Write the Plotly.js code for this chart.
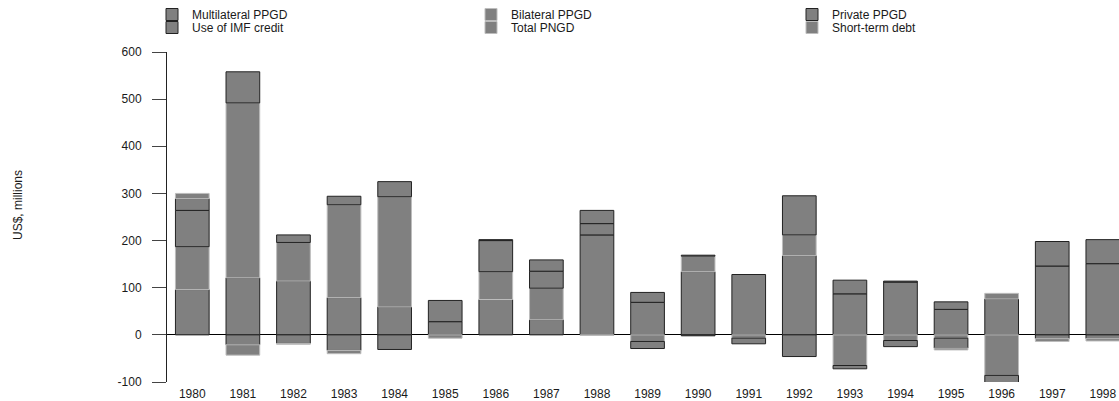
<!DOCTYPE html>
<html>
<head>
<meta charset="utf-8">
<script src="https://cdn.plot.ly/plotly-3.0.1.min.js"></script>
<style>html,body{margin:0;padding:0;background:#fff;}#chart{width:1119px;height:401px;}</style>
</head>
<body>
<div id="chart"></div>
<script>
const years = ["1980","1981","1982","1983","1984","1985","1986","1987","1988","1989","1990","1991","1992","1993","1994","1995","1996","1997","1998"];
const multilateral = [96, 121, 114, 79, 59, 28, 75, 32, 212, 69, 134, 128, 168, 87, 112, 54, 76, 146, 151];
const bilateral    = [91, 371, 82, 197, 234, -7, 59, 67, -1, -14, 33, -7, 44, -65, -12, -7, -86, null, null];
const privatePPGD  = [77, 66, 16, 18, 32, 45, 66, 36, 24, 21, 2, -12, 83, 29, -13, 16, null, 52, 51];
const imfCredit    = [25, -21, -18, -33, -31, null, 2, 24, 28, -15, -2, null, -46, -7, 2, -21, -17, -8, -8];
const totalPNGD    = [11, null, null, null, null, null, null, null, null, null, null, null, null, null, null, null, 12, null, null];
const shortTerm    = [null, -22, -2, -7, null, null, null, null, null, null, null, null, null, null, null, -4, null, -6, -5];
const yTickVals = [-100, 0, 100, 200, 300, 400, 500, 600];
const yTickText = ["-100", "0", "100", "200", "300", "400", "500", "600"];

const seriesNames = ["Multilateral PPGD","Bilateral PPGD","Private PPGD","Use of IMF credit","Total PNGD","Short-term debt"];
const seriesData = [multilateral, bilateral, privatePPGD, imfCredit, totalPNGD, shortTerm];
const outline = ["#222222","#bdbdbd","#222222","#222222","#bdbdbd","#bdbdbd"];
const legendIds = ["legend","legend2","legend3","legend4","legend5","legend6"];

const traces = seriesNames.map((n,i)=>({
  type:"bar", name:n, x:years, y:seriesData[i],
  marker:{color:"#808080", line:{color:outline[i], width:1}},
  legend: legendIds[i], hoverinfo:"x+y+name"
}));

const W = 1119, H = 401;
const L = 167, R = 0, T = 52, B = 19;
const legPos = [[152,-1],[471,-1],[792,-1],[152,13],[471,13],[792,13]];
const font = {family:"Liberation Sans, Arial, sans-serif", size:12, color:"#1a1a1a"};
const layout = {
  width:W, height:H,
  margin:{l:L, r:R, t:T, b:B, autoexpand:false},
  paper_bgcolor:"#fff", plot_bgcolor:"#fff",
  barmode:"relative", bargap:0.334,
  font: font,
  xaxis:{type:"category", range:[-0.5, 18.32], showgrid:false, showline:false, ticks:"", zeroline:false,
         tickfont:font, automargin:false, ticklabelstandoff:3},
  yaxis:{range:[-100,600], tickmode:"array", tickvals:yTickVals, ticktext:yTickText,
         showgrid:false, showline:true, linecolor:"#222", linewidth:1,
         ticks:"outside", ticklen:14, tickcolor:"#444", tickwidth:1, ticklabelstandoff:8,
         zeroline:true, zerolinecolor:"#000", zerolinewidth:1, automargin:false,
         tickfont:font},
  annotations:[{text:"US$, millions", textangle:-90, showarrow:false,
    xref:"paper", yref:"paper", x:(18-L)/(W-L-R), y:(H-B-205)/(H-T-B), xanchor:"center", yanchor:"middle",
    font:font}],
  showlegend:true
};
legendIds.forEach((id,i)=>{
  layout[id] = {x:legPos[i][0]/W, y:1-legPos[i][1]/H, xref:"container", yref:"container", xanchor:"left", yanchor:"top",
    bgcolor:"rgba(0,0,0,0)", borderwidth:0, font:font, itemwidth:30, tracegroupgap:0};
});
Plotly.newPlot("chart", traces, layout, {displayModeBar:false, staticPlot:true});
</script>
</body>
</html>
